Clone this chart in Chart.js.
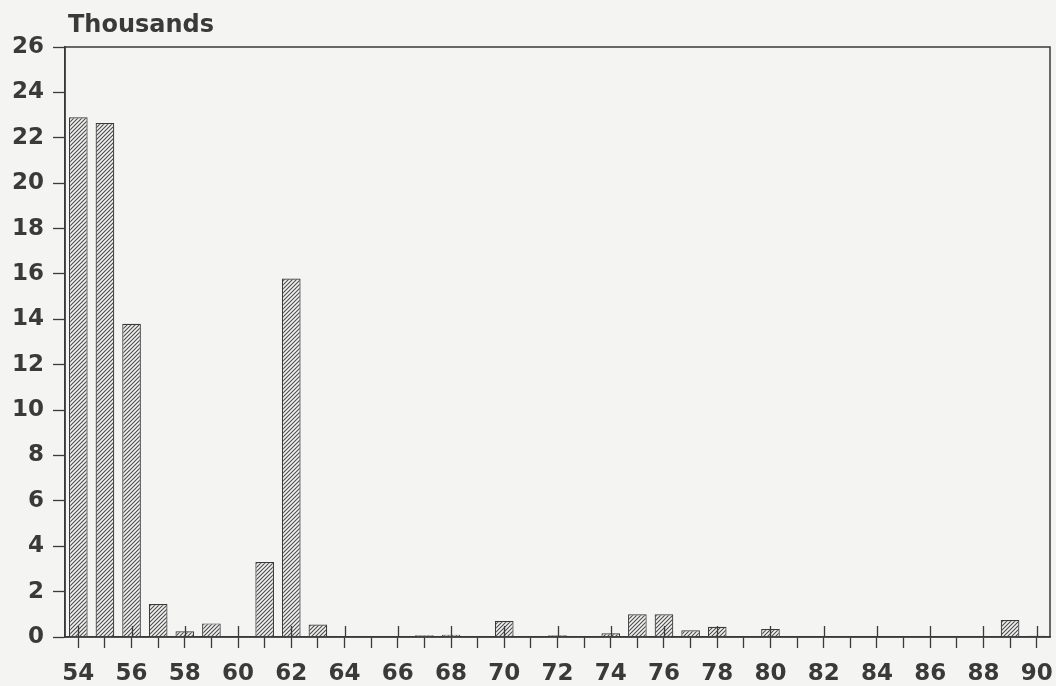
<!DOCTYPE html>
<html>
<head>
<meta charset="utf-8">
<script src="https://cdn.jsdelivr.net/npm/chart.js@4.4.1/dist/chart.umd.min.js"></script>
<style>
  html, body { margin: 0; padding: 0; background: #f4f4f3; }
  #wrap { width: 1056px; height: 686px; }
</style>
</head>
<body>
<div id="wrap"><canvas id="myChart" width="1056" height="686"></canvas></div>
<script>
const INK = '#3a3a3a';

// years 1954 - 1990
const years = ['54', '55', '56', '57', '58', '59', '60', '61', '62', '63',
    '64', '65', '66', '67', '68', '69', '70', '71', '72', '73',
    '74', '75', '76', '77', '78', '79', '80', '81', '82', '83',
    '84', '85', '86', '87', '88', '89', '90'];

// values in thousands
const values = [22.9, 22.65, 13.8, 1.45, 0.25, 0.6, 0, 3.3, 15.8, 0.55,
    0, 0, 0, 0.08, 0.1, 0, 0.7, 0, 0.08, 0,
    0.16, 1.0, 1.0, 0.3, 0.45, 0, 0.35, 0.03, 0, 0,
    0, 0, 0, 0.02, 0, 0.75, 0.05];

const yTicks = [0, 2, 4, 6, 8, 10, 12, 14, 16, 18, 20, 22, 24, 26];

// diagonal hatch fill like the plotter bars
function makeHatch() {
    const c = document.createElement('canvas');
    c.width = 4;
    c.height = 4;
    const g = c.getContext('2d');
    g.fillStyle = '#f2f2f2';
    g.fillRect(0, 0, 4, 4);
    g.strokeStyle = '#4a4a4a';
    g.lineWidth = 1.1;
    g.beginPath();
    g.moveTo(-1, 5); g.lineTo(5, -1);
    g.moveTo(-1, 1); g.lineTo(1, -1);
    g.moveTo(3, 5); g.lineTo(5, 3);
    g.stroke();
    return g.createPattern(c, 'repeat');
}

const ctx = document.getElementById('myChart').getContext('2d');

const frame = {
    id: 'frame',
    beforeDraw(chart) {
        const c = chart.ctx;
        c.save();
        c.fillStyle = '#f4f4f3';
        c.fillRect(0, 0, chart.width, chart.height);
        c.restore();
    },
    afterDatasetsDraw(chart) {
        const c = chart.ctx;
        const a = chart.chartArea;
        const x = chart.scales.x;
        c.save();
        c.strokeStyle = INK;
        c.lineWidth = 1.5;
        c.strokeRect(a.left, a.top, a.right - a.left, a.bottom - a.top);
        // labelled years get a tick crossing above the axis too
        c.lineWidth = 1.3;
        c.beginPath();
        years.forEach((y, i) => {
            if (Number(y) % 2 === 0) {
                const px = Math.round(x.getPixelForTick(i)) + 0.5;
                c.moveTo(px, a.bottom - 11);
                c.lineTo(px, a.bottom);
            }
        });
        c.stroke();
        // unit label
        c.fillStyle = INK;
        c.font = 'bold 24px "DejaVu Sans"';
        c.textBaseline = 'alphabetic';
        c.textAlign = 'left';
        c.fillText('Thousands', a.left + 3, 32);
        c.restore();
    }
};

new Chart(ctx, {
    type: 'bar',
    data: {
        labels: years,
        datasets: [{
            label: 'Thousands',
            data: values,
            backgroundColor: makeHatch(),
            borderColor: '#3a3a3a',
            borderWidth: 1.2,
            barPercentage: 0.7,
            categoryPercentage: 1.0
        }]
    },
    options: {
        responsive: false,
        animation: false,
        layout: {
            padding: { top: 47, right: 6, left: 0, bottom: 0 }
        },
        plugins: {
            legend: { display: false },
            tooltip: { enabled: false }
        },
        scales: {
            x: {
                offset: true,
                grid: {
                    display: true,
                    drawOnChartArea: false,
                    offset: false,
                    tickLength: 11,
                    tickWidth: 1.3,
                    tickColor: INK
                },
                border: { display: true, color: INK, width: 1.5 },
                ticks: {
                    autoSkip: false,
                    maxRotation: 0,
                    padding: 12,
                    color: INK,
                    font: { family: "'DejaVu Sans', sans-serif", size: 23, weight: 'bold' },
                    callback: function (val) {
                        const lab = this.getLabelForValue(val);
                        return Number(lab) % 2 === 0 ? lab : '';
                    }
                },
                afterFit: (s) => {
                    s.height = 49;
                    s.paddingLeft = 0;
                    s.paddingRight = 0;
                }
            },
            y: {
                min: 0,
                max: 26,
                afterBuildTicks: (s) => { s.ticks = yTicks.map(v => ({ value: v })); },
                grid: {
                    display: true,
                    drawOnChartArea: false,
                    tickLength: 12,
                    tickWidth: 1.3,
                    tickColor: INK
                },
                border: { display: true, color: INK, width: 1.5 },
                ticks: {
                    padding: 9,
                    color: INK,
                    font: { family: "'DejaVu Sans', sans-serif", size: 23, weight: 'bold' }
                },
                afterFit: (s) => {
                    s.width = 65;
                    s.paddingTop = 0;
                    s.paddingBottom = 0;
                }
            }
        }
    },
    plugins: [frame]
});
</script>
</body>
</html>
